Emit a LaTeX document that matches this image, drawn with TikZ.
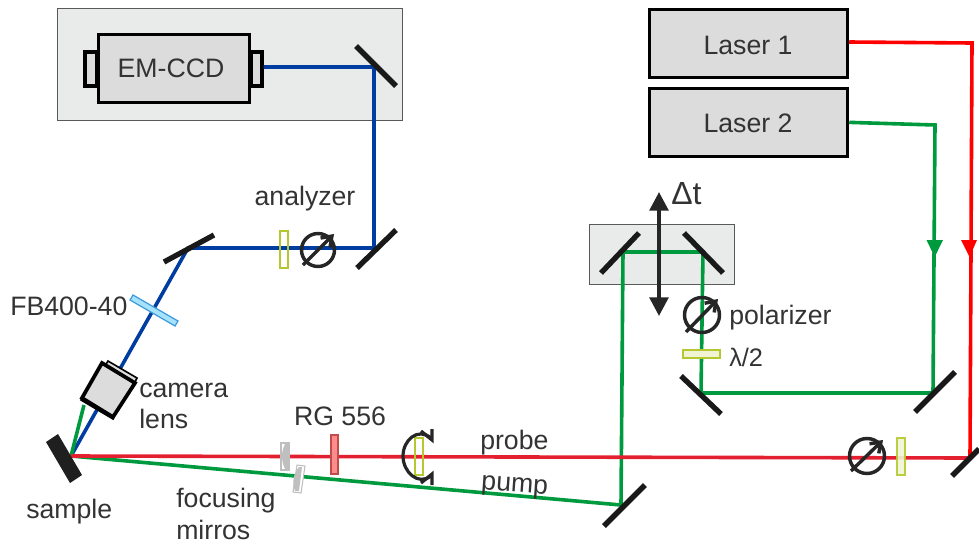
\documentclass[tikz,border=0pt]{standalone}
\usepackage{fontspec}
\setmainfont{Liberation Sans}
\usetikzlibrary{arrows.meta}
\definecolor{txt}{HTML}{333333}
\definecolor{bluebeam}{HTML}{003DA0}
\definecolor{greenbeam}{HTML}{009A3E}
\definecolor{redprobe}{HTML}{E3202F}
\definecolor{redlaser}{HTML}{FF0000}
\definecolor{panel}{HTML}{E9EBEB}
\definecolor{device}{HTML}{DCDCDC}
\definecolor{plate}{HTML}{B5C92E}
\tikzset{
 lbl/.style={font=\fontsize{20}{22}\selectfont,text=txt,inner sep=0pt},
 lblw/.style={lbl,anchor=west},
 panelbox/.style={draw=black!65,fill=panel,line width=.8pt},
 devbox/.style={draw=black,fill=device,line width=2.8pt},
 mirror/.style={draw=black!90,line width=4pt},
 beam/.style={line width=2.7pt,line join=miter},
 wave/.style={draw=plate,line width=1.6pt},
 attn/.style={draw=black!85,line width=2.6pt},
 gmirror/.style={draw=black!25,line width=.8pt,fill=white},
}
\begin{document}
\begin{tikzpicture}[x=.75pt,y=-.75pt]
\useasboundingbox (0,0) rectangle (979,547);
% panels
\node[panelbox,minimum width=345pt*.75,minimum height=112pt*.75,inner sep=0pt,anchor=north west] (empanel) at (57,7.5) {};
\node[panelbox,minimum width=145pt*.75,minimum height=60pt*.75,inner sep=0pt,anchor=north west] (delay) at (588.5,224) {};
% named beam points
\coordinate (S) at (71,456);
\coordinate (M1) at (374,67);
\coordinate (M2) at (374,248);
\coordinate (M3) at (188,248);
\coordinate (R0) at (970,458);
\coordinate (R1) at (972,43);
\coordinate (G1) at (935,125);
\coordinate (G2) at (933,393);
\coordinate (G3) at (701,393);
\coordinate (G4) at (703,252);
\coordinate (G5) at (623,252);
\coordinate (G6) at (621,505);
\coordinate (LG) at (84,405);
% devices
\node[devbox,anchor=north west,minimum width=12pt*.75,minimum height=34pt*.75,inner sep=0pt] (stubL) at (83,50) {};
\node[devbox,anchor=north west,minimum width=11pt*.75,minimum height=34pt*.75,inner sep=0pt] (stubR) at (249,50) {};
\node[devbox,anchor=north west,minimum width=151pt*.75,minimum height=68pt*.75,inner sep=0pt] (ccd) at (96.5,32.5) {};
\node[font=\fontsize{20}{22}\selectfont,text=txt] at (171,68) {EM-CCD};
\node[devbox,anchor=north west,minimum width=198pt*.75,minimum height=68pt*.75,inner sep=0pt] (laserA) at (647.5,7.5) {};
\node[devbox,anchor=north west,minimum width=198pt*.75,minimum height=68pt*.75,inner sep=0pt] (laserB) at (647.5,86.5) {};
\node[lbl] at (748,45) {Laser 1};
\node[lbl] at (748,123) {Laser 2};
% beams
\draw[beam,bluebeam] (stubR.east |- M1) -- (M1) -- (M2) -- (M3) -- (S);
\draw[beam,greenbeam] (laserB.east) -- (G1) -- (G2) -- (G3) -- (G4) -- (G5) -- (G6) -- (S) -- (LG);
\draw[beam,redprobe] (S) -- (R0);
\draw[beam,redlaser] (laserA.east |- 0,42) -- (R1) -- (R0);
\fill[greenbeam] (926.5,240) -- (943,240) -- (934.7,257) -- cycle;
\fill[redlaser] (961,240) -- (977,240) -- (969.5,257) -- cycle;
% mirrors
\draw[mirror] (356,46) -- (396,86);
\draw[mirror] (357,268) -- (396,230);
\draw[mirror] (164,262) -- (214,235);
\draw[mirror] (601,273) -- (639,233);
\draw[mirror] (684,233) -- (723,273);
\draw[mirror] (681,376) -- (721,414);
\draw[mirror] (915,412) -- (955,372);
\draw[mirror] (604,526) -- (645,485);
\draw[mirror] (952,476) -- (979,449);
% sample
\fill[black!88] (46,442) -- (58,434) -- (82,475) -- (70,483) -- cycle;
\node[lblw] at (26,512) {sample};
% camera lens
\draw[draw=black,line width=1.2pt,fill=device] (108,361) -- (137,378) -- (134,384) -- (105,366) -- cycle;
\draw[draw=black,fill=device,line width=1.2pt] (81,400) -- (113,419) -- (115,414) -- (84,396) -- cycle;
\draw[devbox,line join=miter] (102,363) -- (135,383) -- (113,417) -- (82,398) -- cycle;
\node[lblw] at (139,390) {camera};
\node[lblw] at (139,419) {lens};
% FB400 filter
\draw[draw=cyan!70!blue!80,fill=cyan!35,line width=.9pt] (133,295) -- (178,321) -- (175,326) -- (130,300) -- cycle;
\node[lblw] at (10,306) {FB400-40};
% analyzer
\node[lbl] at (305,199) {analyzer};
\draw[wave] (280,231) rectangle (288,268);
\node[attn,circle,minimum size=33pt*.75,inner sep=0pt] (an) at (318,250) {};
\draw[attn,-{Straight Barb[length=7pt,width=10pt]}] (303,265) -- (334,234);
% polarizer
\node[attn,circle,minimum size=35pt*.75,inner sep=0pt] (pol) at (702,315) {};
\draw[attn,-{Straight Barb[length=7pt,width=10pt]}] (686,332) -- (718,299);
\node[lblw] at (729,318) {polarizer};
\draw[wave,fill=plate!20] (683,350) rectangle (720,358);
\node[lblw] at (729,357) {\fontsize{19}{20}\selectfont λ/2};
% right attenuator
\node[attn,circle,minimum size=35pt*.75,inner sep=0pt] (pr) at (867,456) {};
\draw[attn,-{Straight Barb[length=7pt,width=10pt]}] (851,471) -- (883,440);
\draw[wave,fill=plate!20,opacity=.9] (897,438) rectangle (905,475);
% delay arrow
\draw[draw=black!85,line width=2.8pt,{Triangle[length=14pt,width=14pt]}-{Triangle[length=14pt,width=14pt]}] (659,192) -- (659,316);
\node[anchor=west,inner sep=0pt,text=txt] at (671,194) {\fontsize{24}{26}\selectfont Δt};
% RG 556
\draw[draw=red!65!black!70,fill=red!45!white,line width=1.2pt] (331,435) rectangle (338,474);
\node[lbl] at (340,416) {RG 556};
% focusing mirrors
\draw[gmirror] (281,443) rectangle (289,470);
\fill[black!25] (285,444) .. controls (281,452) and (281,460) .. (285,469) -- (288,469) -- (288,444) -- cycle;
\draw[gmirror] (297,465) -- (305,466) -- (301,493) -- (293,492) -- cycle;
\fill[black!25] (299,467) .. controls (293,474) and (292,483) .. (295,491) -- (299,491) -- (302,467) -- cycle;
\node[lblw] at (176,501) {focusing};
\node[lblw] at (176,530) {mirros};
% rotating waveplate
\draw[wave] (415,438) rectangle (423,475);
\draw[attn,line width=2.4pt] (431,438) .. controls (418,427) and (403,440) .. (403,456) .. controls (403,472) and (418,486) .. (431,476);
\draw[attn,line width=2.4pt] (421,431) -- (432,440) -- (432,429);
\draw[attn,line width=2.4pt] (421,483) -- (432,474) -- (432,485);
\node[lblw] at (480,443) {probe};
\node[lblw,rotate=-4] at (481,485) {pump};
\end{tikzpicture}
\end{document}
